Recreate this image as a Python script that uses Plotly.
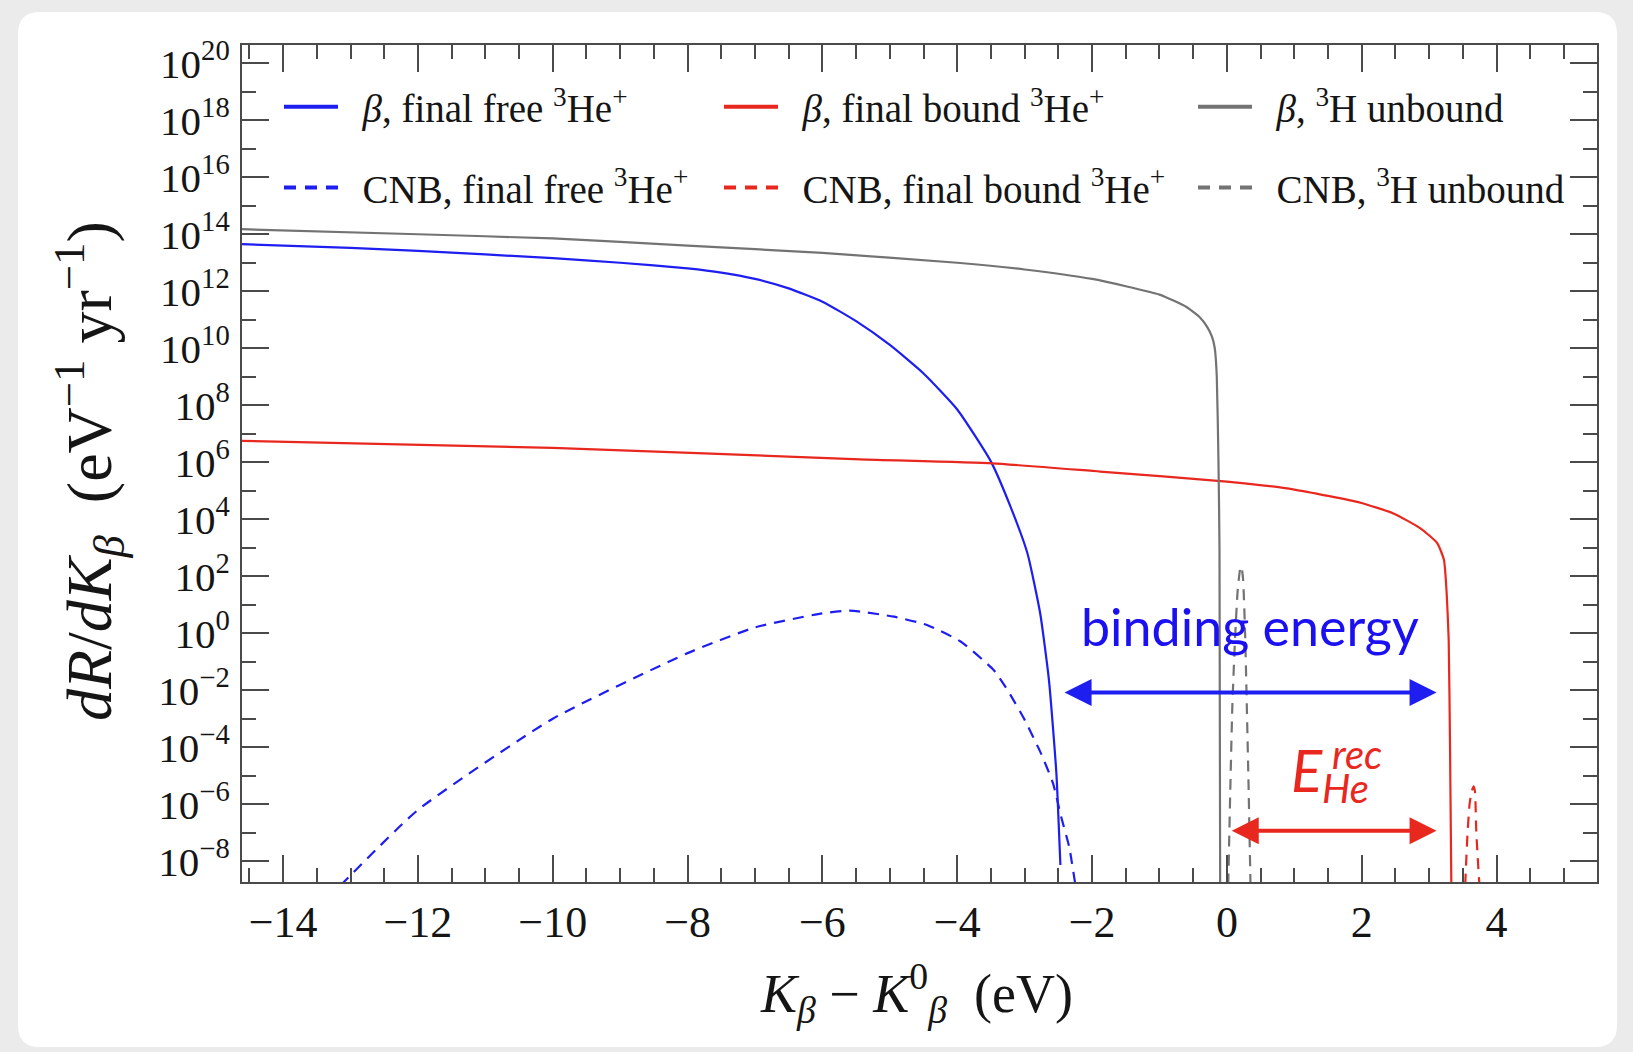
import plotly.graph_objects as go

# ---------------- data ----------------
beta_unbound_x = [-14.61, -12, -10, -8, -6, -4, -3, -2, -1.5, -1, -0.6, -0.4, -0.3, -0.22, -0.18, -0.15, -0.125, -0.11, -0.1]
beta_unbound_y = [1.5e14, 1.0e14, 7.1e13, 4.0e13, 2.2e13, 1.0e13, 5.8e12, 2.7e12, 1.5e12, 7.6e11, 2.8e11, 1.2e11,
                  6.0e10, 2.5e10, 1.0e10, 1.0e9, 1e6, 1e3, 1e-9]

beta_free_x = [-14.61, -13, -12, -10, -9, -8, -7.5, -7, -6.5, -6, -5.5, -5, -4.5, -4, -3.5, -3.21, -2.96, -2.77,
               -2.64, -2.53, -2.47]
beta_free_y = [4.5e13, 3.3e13, 2.6e13, 1.45e13, 1.0e13, 6.3e12, 4.5e12, 2.7e12, 1.26e12, 4.3e11, 8.9e10, 1.3e10,
               1.3e9, 7.1e7, 1.05e6, 2.75e4, 6.5e2, 5.0, 2.3e-2, 1.26e-5, 7.4e-9]

beta_bound_x = [-14.61, -10, -5.44, -3.48, -1.88, 0, 1, 1.98, 2.47, 2.87, 3.12, 3.22, 3.26, 3.29, 3.31, 3.33]
beta_bound_y = [5.6e6, 3.2e6, 1.26e6, 9.1e5, 4.7e5, 2.1e5, 1.1e5, 3.8e4, 1.6e4, 4.8e3, 1.45e3, 3.7e2, 25, 0.58,
                1e-4, 1e-9]

cnb_free_x = [-13.15, -12, -10, -8, -7, -6, -5.6, -5.44, -4.94, -4.45, -3.95, -3.46, -3.24, -3.0, -2.76, -2.58,
              -2.46, -2.34, -2.25]
cnb_free_y = [1.4e-9, 6.3e-7, 1e-3, 0.2, 1.6, 5.0, 6.2, 5.75, 3.8, 1.95, 0.51, 0.051, 8.9e-3, 9.1e-4, 6.2e-5,
              5.5e-6, 3.7e-7, 3.2e-8, 1.6e-9]

cnb_unbound_x = [0.02, 0.05, 0.08, 0.12, 0.16, 0.2, 0.215, 0.24, 0.27, 0.29, 0.32, 0.35]
cnb_unbound_y = [1.5e-9, 3e-6, 2.5e-3, 0.6, 32, 200, 220, 80, 1.0, 1e-2, 6e-6, 1.5e-9]

cnb_bound_x = [3.535, 3.57, 3.60, 3.63, 3.66, 3.68, 3.70, 3.745]
cnb_bound_y = [1.5e-9, 1e-7, 1e-6, 2.8e-6, 4.2e-6, 2.8e-6, 1e-7, 1.5e-9]

x_ticks = [-14, -12, -10, -8, -6, -4, -2, 0, 2, 4]
y_tick_exps = list(range(-8, 21, 2))
y_minor_exps = list(range(-7, 20, 2))

# annotation anchors (data units; y in log10)
binding_arrow = dict(x0=-2.43, x1=3.11, logy=-2.08)
recoil_arrow = dict(x0=0.05, x1=3.11, logy=-6.93)

# ---------------- layout geometry ----------------
W, H = 1633, 1052
ML, MR, MT, MB = 242, 36, 45, 170
PW, PH = W - ML - MR, H - MT - MB


def px(xp):
    return (xp - ML) / PW


def py(yp):
    return 1 - (yp - MT) / PH


SERIF = "Liberation Serif"
SANS = "Lato"
BLUE = "#1e1ef0"
RED = "#e8281e"
GRAY = "#737373"
AXC = "#4a4a4a"
DASH = "11px,8px"
LEG_DASH = "12px,9px"
GAP = "\u00a0\u00a0"

fig = go.Figure()

series = [
    (beta_free_x, beta_free_y, "<i>β</i>, final free <sup>3</sup>He<sup>+</sup>", BLUE, False, "legend"),
    (cnb_free_x, cnb_free_y, "CNB, final free <sup>3</sup>He<sup>+</sup>", BLUE, True, "legend"),
    (beta_bound_x, beta_bound_y, "<i>β</i>, final bound <sup>3</sup>He<sup>+</sup>", RED, False, "legend2"),
    (cnb_bound_x, cnb_bound_y, "CNB, final bound <sup>3</sup>He<sup>+</sup>", RED, True, "legend2"),
    (beta_unbound_x, beta_unbound_y, "<i>β</i>, <sup>3</sup>H unbound", GRAY, False, "legend3"),
    (cnb_unbound_x, cnb_unbound_y, "CNB, <sup>3</sup>H unbound", GRAY, True, "legend3"),
]

for i, (x, y, name, color, dashed, leg) in enumerate(series):
    # the curve itself
    fig.add_trace(go.Scatter(
        x=x, y=y, name=name, mode="lines", showlegend=False, hoverinfo="skip",
        line=dict(color=color, width=2.2, dash=DASH if dashed else "solid", shape="spline", smoothing=0.5)))
    # legend entry (thicker sample line, no data)
    fig.add_trace(go.Scatter(
        x=[None], y=[None], name=GAP + name, mode="lines", legend=leg, legendgroup="g%d" % i,
        line=dict(color=color, width=4, dash=LEG_DASH if dashed else "solid")))

leg_common = dict(xanchor="left", yanchor="top", bgcolor="rgba(0,0,0,0)", borderwidth=0,
                  font=dict(family=SERIF, size=39, color="#151515"), tracegroupgap=27, itemwidth=54)

axis_common = dict(showline=True, linecolor=AXC, linewidth=2, mirror="ticks", ticks="inside",
                   tickcolor=AXC, tickwidth=1.8, ticklen=27, showgrid=False, zeroline=False)

fig.update_layout(
    width=W, height=H,
    margin=dict(l=ML, r=MR, t=MT, b=MB, autoexpand=False),
    paper_bgcolor="#ebebeb", plot_bgcolor="white",
    xaxis=dict(range=[-14.61, 5.49], tickvals=x_ticks,
               ticktext=[str(v).replace("-", "\u2212") for v in x_ticks],
               minor=dict(dtick=0.5, tick0=0, ticks="inside", ticklen=14, tickcolor=AXC, tickwidth=1.8),
               ticklabelstandoff=0, tickfont=dict(family=SERIF, size=44, color="#151515"), **axis_common),
    yaxis=dict(type="log", range=[-8.73, 20.64], tickvals=[10.0 ** e for e in y_tick_exps],
               ticktext=["10<sup>%s</sup>" % str(e).replace("-", "\u2212") for e in y_tick_exps],
               minor=dict(tickvals=[10.0 ** e for e in y_minor_exps], ticks="inside", ticklen=14,
                          tickcolor=AXC, tickwidth=1.8),
               ticklabelstandoff=2, tickfont=dict(family=SERIF, size=41, color="#151515"), **axis_common),
    legend=dict(x=px(279), y=py(75), **leg_common),
    legend2=dict(x=px(719), y=py(75), **leg_common),
    legend3=dict(x=px(1193), y=py(75), **leg_common),
    showlegend=True,
)

# white card behind the figure
x0, x1, y0, y1 = px(18), px(1617), py(1047), py(12)
rx, ry = 22 / PW, 22 / PH
card = (f"M{x0+rx},{y1} L{x1-rx},{y1} Q{x1},{y1} {x1},{y1-ry} L{x1},{y0+ry} Q{x1},{y0} {x1-rx},{y0} "
        f"L{x0+rx},{y0} Q{x0},{y0} {x0},{y0+ry} L{x0},{y1-ry} Q{x0},{y1} {x0+rx},{y1} Z")
fig.add_shape(type="path", path=card, xref="paper", yref="paper", fillcolor="white",
              line=dict(width=0), layer="below")

# arrows
for arr, col in ((binding_arrow, BLUE), (recoil_arrow, RED)):
    fig.add_annotation(x=arr["x1"], y=arr["logy"], ax=arr["x0"], ay=arr["logy"], xref="x", yref="y",
                       axref="x", ayref="y", text="", showarrow=True, arrowhead=2, startarrowhead=2,
                       arrowside="end+start", arrowwidth=4, arrowsize=1.35, startarrowsize=1.35,
                       arrowcolor=col, standoff=0, startstandoff=0)


def text(xp, yp, s, size, color, family, xanchor="center", angle=0):
    fig.add_annotation(x=px(xp), y=py(yp), xref="paper", yref="paper", xanchor=xanchor, yanchor="middle",
                       text=s, showarrow=False, textangle=angle, font=dict(family=family, size=size, color=color))


text(1250, 626, "binding energy", 52, "#1a10f0", SANS)
text(1307, 769, "<i>E</i>", 58, RED, SANS)
text(1330, 754, "<i>rec</i>", 40, RED, SANS, xanchor="left")
text(1320, 788, "<i>He</i>", 40, RED, SANS, xanchor="left")

# axis titles
text(916, 993, "<i>K</i><sub><i>β</i></sub> \u2212 <i>K</i><sup>0</sup><sub><i>β</i></sub>  (eV)", 54, "#151515", SERIF)
text(89, 471, "<i>dR</i>/<i>dK</i><sub><i>β</i></sub>  (eV<sup>\u22121</sup> yr<sup>\u22121</sup>)", 64, "#151515",
     SERIF, angle=-90)

fig.write_html("out.html")
